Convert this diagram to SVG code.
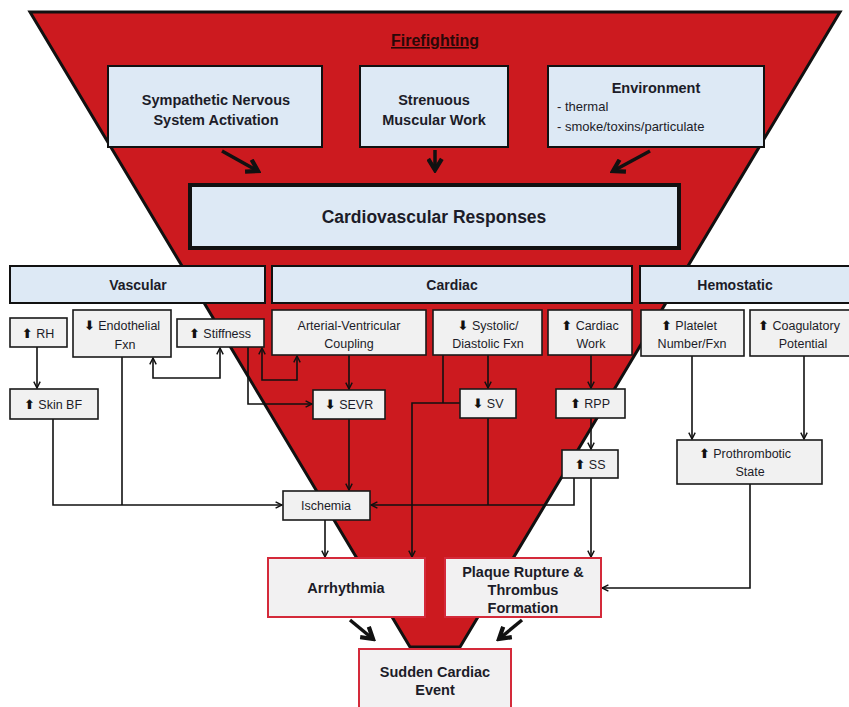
<svg xmlns="http://www.w3.org/2000/svg" width="849" height="707" viewBox="0 0 849 707">
<defs>
<style>
text{font-family:"Liberation Sans",Arial,sans-serif;fill:#1c1c28;text-anchor:middle}
.t{font-size:14.5px;font-weight:bold}
.c{font-size:14px;font-weight:bold}
.s{font-size:12.5px}
.b{font-size:14.5px;font-weight:bold}
.ar{font-family:"DejaVu Sans",sans-serif;font-size:13px;font-weight:bold;fill:#111}
.blue{fill:#dde9f5;stroke:#111;stroke-width:2}
.gray{fill:#f1f1f1;stroke:#1a1a1a;stroke-width:1.6}
.redb{fill:#f2f1f2;stroke:#d42a3a;stroke-width:2}
.ln{fill:none;stroke:#111;stroke-width:1.6}
.thick{fill:none;stroke:#111;stroke-width:3.5}
</style>
<marker id="a" viewBox="0 0 10 10" refX="9" refY="5" markerWidth="8" markerHeight="8" markerUnits="userSpaceOnUse" orient="auto-start-reverse"><path d="M1,1 L9,5 L1,9" fill="none" stroke="#111" stroke-width="1.8"/></marker>
<marker id="A" viewBox="0 0 10 10" refX="8" refY="5" markerWidth="17" markerHeight="17" markerUnits="userSpaceOnUse" orient="auto"><path d="M1.5,1 L8,5 L1.5,9" fill="none" stroke="#111" stroke-width="2.5"/></marker>
</defs>
<rect width="849" height="707" fill="#fff"/>
<polygon id="funnel" points="30,12 840,12 460,647 410,647" fill="#cc1a1f" stroke="#111" stroke-width="3"/>
<text x="435" y="46" style="font-size:16px;font-weight:bold;fill:#2a0808;text-decoration:underline">Firefighting</text>

<g id="connectors">
<line class="thick" x1="222" y1="151" x2="258" y2="171" marker-end="url(#A)"/>
<line class="thick" x1="435" y1="150" x2="435" y2="170" marker-end="url(#A)"/>
<line class="thick" x1="650" y1="151" x2="613" y2="171" marker-end="url(#A)"/>
<line class="ln" x1="37" y1="347" x2="37" y2="388" marker-end="url(#a)"/>
<polyline class="ln" points="53,419 53,505 282,505" marker-end="url(#a)"/>
<line class="ln" x1="122" y1="357" x2="122" y2="505"/>
<polyline class="ln" points="153,358 153,378 220,378 220,348" marker-start="url(#a)" marker-end="url(#a)"/>
<polyline class="ln" points="262,348 262,380 297,380 297,356" marker-start="url(#a)" marker-end="url(#a)"/>
<polyline class="ln" points="248,347 248,404 312,404" marker-end="url(#a)"/>
<line class="ln" x1="349" y1="355" x2="349" y2="389" marker-end="url(#a)"/>
<line class="ln" x1="349" y1="419" x2="349" y2="490" marker-end="url(#a)"/>
<line class="ln" x1="443" y1="355" x2="443" y2="403"/>
<polyline class="ln" points="460,403 412,403 412,557" marker-end="url(#a)"/>
<line class="ln" x1="488" y1="355" x2="488" y2="388" marker-end="url(#a)"/>
<line class="ln" x1="488" y1="418" x2="488" y2="505"/>
<polyline class="ln" points="574,478 574,505 371,505" marker-end="url(#a)"/>
<line class="ln" x1="591" y1="478" x2="591" y2="557" marker-end="url(#a)"/>
<line class="ln" x1="591" y1="355" x2="591" y2="388" marker-end="url(#a)"/>
<line class="ln" x1="591" y1="418" x2="591" y2="449" marker-end="url(#a)"/>
<line class="ln" x1="325" y1="520" x2="325" y2="557" marker-end="url(#a)"/>
<line class="ln" x1="692" y1="356" x2="692" y2="439" marker-end="url(#a)"/>
<line class="ln" x1="804" y1="356" x2="804" y2="439" marker-end="url(#a)"/>
<polyline class="ln" points="750,484 750,588 602,588" marker-end="url(#a)"/>
<line class="thick" x1="350" y1="620" x2="373" y2="639" marker-end="url(#A)"/>
<line class="thick" x1="522" y1="620" x2="499" y2="639" marker-end="url(#A)"/>
</g>

<g id="sympathetic"><rect class="blue" x="108" y="66" width="214" height="81"/><text class="t" x="216" y="105">Sympathetic Nervous</text><text class="t" x="216" y="125">System Activation</text></g>
<g id="strenuous"><rect class="blue" x="360" y="66" width="148" height="81"/><text class="t" x="434" y="105">Strenuous</text><text class="t" x="434" y="125">Muscular Work</text></g>
<g id="environment"><rect class="blue" x="548" y="66" width="216" height="81"/><text class="t" x="656" y="93">Environment</text><text class="s" x="557" y="111" style="text-anchor:start;font-size:13px">- thermal</text><text class="s" x="557" y="131" style="text-anchor:start;font-size:13px">- smoke/toxins/particulate</text></g>
<g id="cv-responses"><rect x="190" y="185" width="489" height="63" fill="#dde9f5" stroke="#111" stroke-width="4"/><text x="434" y="223" style="font-size:17.5px;font-weight:bold">Cardiovascular Responses</text></g>

<g id="vascular"><rect class="blue" x="10" y="266" width="255" height="37"/><text class="c" x="138" y="290">Vascular</text></g>
<g id="cardiac"><rect class="blue" x="272" y="266" width="360" height="37"/><text class="c" x="452" y="290">Cardiac</text></g>
<g id="hemostatic"><rect class="blue" x="640" y="266" width="212" height="37"/><text class="c" x="735" y="290">Hemostatic</text></g>

<g id="rh"><rect class="gray" x="10" y="318" width="57" height="29"/><text class="s" x="38" y="338"><tspan class="ar">⬆</tspan> RH</text></g>
<g id="endothelial"><rect class="gray" x="73" y="310" width="98" height="47"/><text class="s" x="122" y="330"><tspan class="ar">⬇</tspan> Endothelial</text><text class="s" x="125" y="349">Fxn</text></g>
<g id="stiffness"><rect class="gray" x="177" y="319" width="87" height="28"/><text class="s" x="220" y="338"><tspan class="ar">⬆</tspan> Stiffness</text></g>
<g id="avc"><rect class="gray" x="272" y="310" width="154" height="45"/><text class="s" x="349" y="330">Arterial-Ventricular</text><text class="s" x="349" y="348">Coupling</text></g>
<g id="systolic"><rect class="gray" x="433" y="310" width="109" height="45"/><text class="s" x="488" y="330"><tspan class="ar">⬇</tspan> Systolic/</text><text class="s" x="488" y="348">Diastolic Fxn</text></g>
<g id="cardiac-work"><rect class="gray" x="548" y="310" width="84" height="45"/><text class="s" x="590" y="330"><tspan class="ar">⬆</tspan> Cardiac</text><text class="s" x="591" y="348">Work</text></g>
<g id="platelet"><rect class="gray" x="641" y="310" width="103" height="46"/><text class="s" x="689" y="330"><tspan class="ar">⬆</tspan> Platelet</text><text class="s" x="692" y="348">Number/Fxn</text></g>
<g id="coagulatory"><rect class="gray" x="750" y="310" width="102" height="46"/><text class="s" x="799" y="330"><tspan class="ar">⬆</tspan> Coagulatory</text><text class="s" x="803" y="348">Potential</text></g>
<g id="skin-bf"><rect class="gray" x="10" y="389" width="88" height="30"/><text class="s" x="53" y="409"><tspan class="ar">⬆</tspan> Skin BF</text></g>
<g id="sevr"><rect class="gray" x="313" y="390" width="72" height="29"/><text class="s" x="349" y="409"><tspan class="ar">⬇</tspan> SEVR</text></g>
<g id="sv"><rect class="gray" x="460" y="389" width="56" height="29"/><text class="s" x="488" y="408"><tspan class="ar">⬇</tspan> SV</text></g>
<g id="rpp"><rect class="gray" x="556" y="389" width="69" height="29"/><text class="s" x="590" y="408"><tspan class="ar">⬆</tspan> RPP</text></g>
<g id="ss"><rect class="gray" x="562" y="450" width="56" height="28"/><text class="s" x="590" y="469"><tspan class="ar">⬆</tspan> SS</text></g>
<g id="prothrombotic"><rect class="gray" x="677" y="440" width="145" height="44"/><text class="s" x="745" y="458"><tspan class="ar">⬆</tspan> Prothrombotic</text><text class="s" x="750" y="476">State</text></g>
<g id="ischemia"><rect class="gray" x="283" y="491" width="87" height="29"/><text class="s" x="326" y="510">Ischemia</text></g>

<g id="arrhythmia"><rect class="redb" x="268" y="558" width="157" height="59"/><text class="b" x="346" y="593">Arrhythmia</text></g>
<g id="plaque"><rect class="redb" x="445" y="558" width="156" height="59"/><text class="b" x="523" y="577">Plaque Rupture &amp;</text><text class="b" x="523" y="595">Thrombus</text><text class="b" x="523" y="613">Formation</text></g>
<g id="sudden"><rect class="redb" x="359" y="649" width="152" height="62"/><text class="b" x="435" y="677">Sudden Cardiac</text><text class="b" x="435" y="695">Event</text></g>
</svg>
